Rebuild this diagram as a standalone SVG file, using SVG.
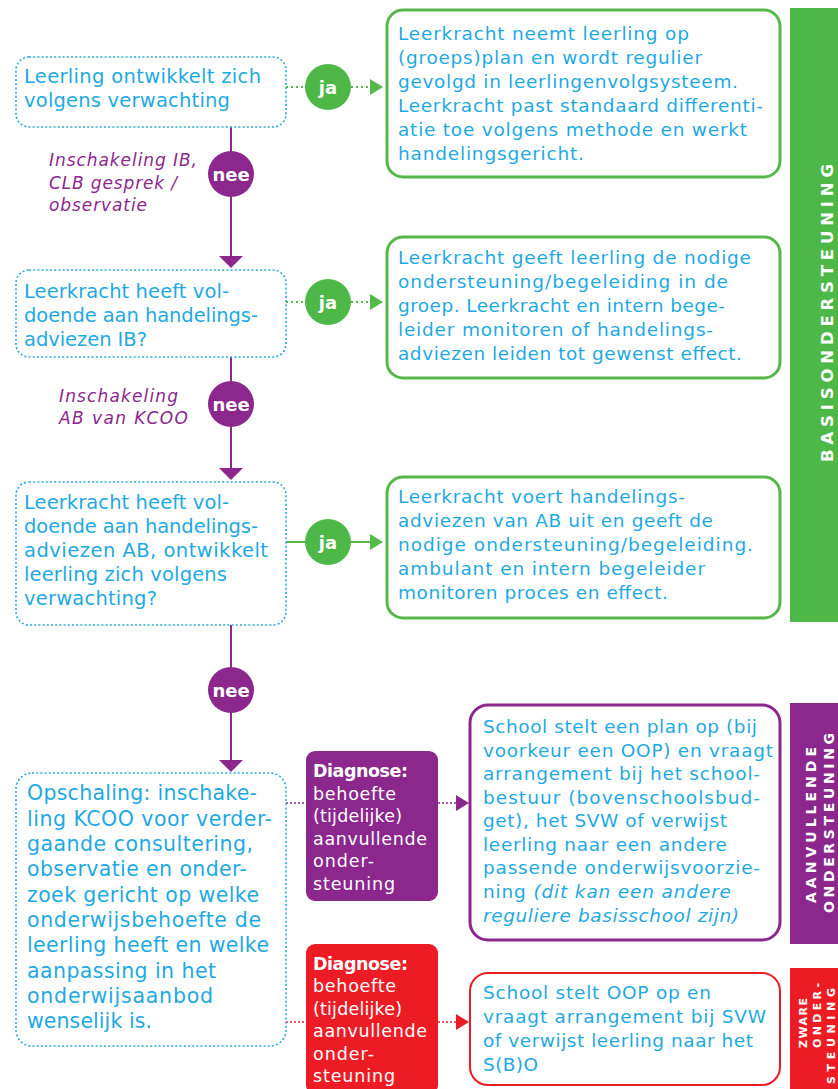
<svg xmlns="http://www.w3.org/2000/svg" width="838" height="1089" viewBox="0 0 838 1089">
<style>
  text { font-family: "DejaVu Sans", "Liberation Sans", sans-serif; }
  .q { fill: none; stroke: #27AAE1; stroke-width: 1.6; stroke-dasharray: 2 2.2; }
  .t19 { fill: #1FA9E2; font-size: 19.5px; }
  .t20 { fill: #1FA9E2; font-size: 20.5px; }
  .t18 { fill: #1FA9E2; font-size: 18.5px; }
  .g { fill: #fff; stroke: #56B84B; stroke-width: 3; }
  .p { fill: #fff; stroke: #8B278D; stroke-width: 3; }
  .r { fill: #fff; stroke: #ED1C24; stroke-width: 2; }
  .lab { fill: #8B278D; font-size: 17px; font-style: italic; }
  .circ { font-size: 18px; font-weight: bold; fill: #fff; text-anchor: middle; }
  .dw { fill: #fff; font-size: 17.5px; }
  .side { fill: #fff; font-weight: bold; }
</style>

<!-- sidebars -->
<g id="side-basis">
  <rect x="790" y="8" width="48" height="614" fill="#4DB848"/>
  <text class="side" font-size="16.5" x="0" y="0" textLength="298" lengthAdjust="spacing" transform="translate(833,462) rotate(-90)">BASISONDERSTEUNING</text>
</g>
<g id="side-aanvullend">
  <rect x="790" y="703" width="48" height="241" fill="#8B278D"/>
  <text class="side" font-size="14" x="0" y="0" textLength="156" lengthAdjust="spacing" transform="translate(816,903) rotate(-90)">AANVULLENDE</text>
  <text class="side" font-size="14" x="0" y="0" textLength="180" lengthAdjust="spacing" transform="translate(834,913) rotate(-90)">ONDERSTEUNING</text>
</g>
<g id="side-zwaar">
  <rect x="790" y="968" width="48" height="121" fill="#ED1C24"/>
  <text class="side" font-size="11" x="0" y="0" textLength="50" lengthAdjust="spacing" transform="translate(807,1048) rotate(-90)">ZWARE</text>
  <text class="side" font-size="11" x="0" y="0" textLength="65" lengthAdjust="spacing" transform="translate(821,1048) rotate(-90)">ONDER-</text>
  <text class="side" font-size="11" x="0" y="0" textLength="96" lengthAdjust="spacing" transform="translate(835,1084) rotate(-90)">STEUNING</text>
</g>

<!-- connectors -->
<g id="connectors">
  <line x1="286" y1="87" x2="370" y2="87" stroke="#56B84B" stroke-width="2" stroke-dasharray="2 3"/>
  <polygon points="370,79 383,87 370,95" fill="#56B84B"/>
  <line x1="286" y1="302" x2="370" y2="302" stroke="#56B84B" stroke-width="2" stroke-dasharray="2 3"/>
  <polygon points="370,294 383,302 370,310" fill="#56B84B"/>
  <line x1="286" y1="542" x2="370" y2="542" stroke="#56B84B" stroke-width="2"/>
  <polygon points="370,534 383,542 370,550" fill="#56B84B"/>

  <line x1="231" y1="127" x2="231" y2="256" stroke="#8B278D" stroke-width="2"/>
  <polygon points="219,256 243,256 231,268" fill="#8B278D"/>
  <line x1="231" y1="357" x2="231" y2="468" stroke="#8B278D" stroke-width="2"/>
  <polygon points="219,468 243,468 231,480" fill="#8B278D"/>
  <line x1="231" y1="625" x2="231" y2="760" stroke="#8B278D" stroke-width="2"/>
  <polygon points="219,760 243,760 231,772" fill="#8B278D"/>

  <line x1="286" y1="803" x2="306" y2="803" stroke="#8B278D" stroke-width="1.5" stroke-dasharray="2 2"/>
  <line x1="438" y1="803" x2="456" y2="803" stroke="#8B278D" stroke-width="1.5" stroke-dasharray="2 2"/>
  <polygon points="456,795 469,803 456,811" fill="#8B278D"/>
  <line x1="286" y1="1022" x2="306" y2="1022" stroke="#ED1C24" stroke-width="1.5" stroke-dasharray="2 2"/>
  <line x1="438" y1="1022" x2="456" y2="1022" stroke="#ED1C24" stroke-width="1.5" stroke-dasharray="2 2"/>
  <polygon points="456,1014 469,1022 456,1030" fill="#ED1C24"/>

  <g id="ja1"><circle cx="328" cy="87" r="23" fill="#4DB848"/><text class="circ" x="328" y="94">ja</text></g>
  <g id="ja2"><circle cx="328" cy="302" r="23" fill="#4DB848"/><text class="circ" x="328" y="309">ja</text></g>
  <g id="ja3"><circle cx="328" cy="542" r="23" fill="#4DB848"/><text class="circ" x="328" y="549">ja</text></g>
  <g id="nee1"><circle cx="231" cy="174" r="23" fill="#8B278D"/><text class="circ" x="231" y="181">nee</text></g>
  <g id="nee2"><circle cx="231" cy="404" r="23" fill="#8B278D"/><text class="circ" x="231" y="411">nee</text></g>
  <g id="nee3"><circle cx="231" cy="690" r="23" fill="#8B278D"/><text class="circ" x="231" y="697">nee</text></g>

  <g id="label1">
    <text class="lab" x="49" y="166" textLength="148" lengthAdjust="spacing">Inschakeling IB,</text>
    <text class="lab" x="49" y="189" textLength="128" lengthAdjust="spacing">CLB gesprek /</text>
    <text class="lab" x="49" y="211" textLength="98" lengthAdjust="spacing">observatie</text>
  </g>
  <g id="label2">
    <text class="lab" x="59" y="402" textLength="119" lengthAdjust="spacing">Inschakeling</text>
    <text class="lab" x="59" y="424" textLength="129" lengthAdjust="spacing">AB van KCOO</text>
  </g>
</g>

<!-- left question nodes -->
<g id="q1">
  <rect class="q" x="16" y="57" width="270" height="70" rx="13"/>
  <text class="t19" x="24" y="83" textLength="237" lengthAdjust="spacing">Leerling ontwikkelt zich</text>
  <text class="t19" x="24" y="107" textLength="206" lengthAdjust="spacing">volgens verwachting</text>
</g>
<g id="q2">
  <rect class="q" x="16" y="270" width="270" height="87" rx="13"/>
  <text class="t19" x="24" y="298" textLength="205" lengthAdjust="spacing">Leerkracht heeft vol-</text>
  <text class="t19" x="24" y="322" textLength="234" lengthAdjust="spacing">doende aan handelings-</text>
  <text class="t19" x="24" y="346" textLength="123" lengthAdjust="spacing">adviezen IB?</text>
</g>
<g id="q3">
  <rect class="q" x="16" y="482" width="270" height="143" rx="13"/>
  <text class="t19" x="24" y="509" textLength="205" lengthAdjust="spacing">Leerkracht heeft vol-</text>
  <text class="t19" x="24" y="533" textLength="234" lengthAdjust="spacing">doende aan handelings-</text>
  <text class="t19" x="24" y="557" textLength="244" lengthAdjust="spacing">adviezen AB, ontwikkelt</text>
  <text class="t19" x="24" y="581" textLength="203" lengthAdjust="spacing">leerling zich volgens</text>
  <text class="t19" x="24" y="605" textLength="133" lengthAdjust="spacing">verwachting?</text>
</g>
<g id="q4">
  <rect class="q" x="16" y="773" width="270" height="273" rx="16"/>
  <text class="t20" x="27" y="800" textLength="230" lengthAdjust="spacing">Opschaling: inschake-</text>
  <text class="t20" x="27" y="826" textLength="245" lengthAdjust="spacing">ling KCOO voor verder-</text>
  <text class="t20" x="27" y="851" textLength="226" lengthAdjust="spacing">gaande consultering,</text>
  <text class="t20" x="27" y="876" textLength="220" lengthAdjust="spacing">observatie en onder-</text>
  <text class="t20" x="27" y="902" textLength="232" lengthAdjust="spacing">zoek gericht op welke</text>
  <text class="t20" x="27" y="927" textLength="234" lengthAdjust="spacing">onderwijsbehoefte de</text>
  <text class="t20" x="27" y="952" textLength="242" lengthAdjust="spacing">leerling heeft en welke</text>
  <text class="t20" x="27" y="978" textLength="189" lengthAdjust="spacing">aanpassing in het</text>
  <text class="t20" x="27" y="1003" textLength="186" lengthAdjust="spacing">onderwijsaanbod</text>
  <text class="t20" x="27" y="1028" textLength="125" lengthAdjust="spacing">wenselijk is.</text>
</g>

<!-- right outcome nodes -->
<g id="g1">
  <rect class="g" x="387" y="10" width="393" height="167" rx="16"/>
  <text class="t18" x="398" y="40" textLength="291" lengthAdjust="spacing">Leerkracht neemt leerling op</text>
  <text class="t18" x="398" y="64" textLength="304" lengthAdjust="spacing">(groeps)plan en wordt regulier</text>
  <text class="t18" x="398" y="88" textLength="340" lengthAdjust="spacing">gevolgd in leerlingenvolgsysteem.</text>
  <text class="t18" x="398" y="112" textLength="365" lengthAdjust="spacing">Leerkracht past standaard differenti-</text>
  <text class="t18" x="398" y="136" textLength="349" lengthAdjust="spacing">atie toe volgens methode en werkt</text>
  <text class="t18" x="398" y="160" textLength="186" lengthAdjust="spacing">handelingsgericht.</text>
</g>
<g id="g2">
  <rect class="g" x="387" y="237" width="393" height="141" rx="16"/>
  <text class="t18" x="398" y="264" textLength="353" lengthAdjust="spacing">Leerkracht geeft leerling de nodige</text>
  <text class="t18" x="398" y="288" textLength="330" lengthAdjust="spacing">ondersteuning/begeleiding in de</text>
  <text class="t18" x="398" y="312" textLength="327" lengthAdjust="spacing">groep. Leerkracht en intern bege-</text>
  <text class="t18" x="398" y="336" textLength="315" lengthAdjust="spacing">leider monitoren of handelings-</text>
  <text class="t18" x="398" y="360" textLength="344" lengthAdjust="spacing">adviezen leiden tot gewenst effect.</text>
</g>
<g id="g3">
  <rect class="g" x="387" y="477" width="393" height="141" rx="16"/>
  <text class="t18" x="398" y="503" textLength="287" lengthAdjust="spacing">Leerkracht voert handelings-</text>
  <text class="t18" x="398" y="527" textLength="315" lengthAdjust="spacing">adviezen van AB uit en geeft de</text>
  <text class="t18" x="398" y="551" textLength="355" lengthAdjust="spacing">nodige ondersteuning/begeleiding.</text>
  <text class="t18" x="398" y="575" textLength="307" lengthAdjust="spacing">ambulant en intern begeleider</text>
  <text class="t18" x="398" y="599" textLength="270" lengthAdjust="spacing">monitoren proces en effect.</text>
</g>

<g id="diag-purple">
  <rect x="306" y="751" width="132" height="150" rx="9" fill="#8B278D"/>
  <text class="dw" x="313" y="777" font-weight="bold" textLength="95" lengthAdjust="spacing">Diagnose:</text>
  <text class="dw" x="313" y="800" textLength="83" lengthAdjust="spacing">behoefte</text>
  <text class="dw" x="313" y="822" textLength="89" lengthAdjust="spacing">(tijdelijke)</text>
  <text class="dw" x="313" y="845" textLength="114" lengthAdjust="spacing">aanvullende</text>
  <text class="dw" x="313" y="867" textLength="61" lengthAdjust="spacing">onder-</text>
  <text class="dw" x="313" y="890" textLength="82" lengthAdjust="spacing">steuning</text>
</g>
<g id="diag-red">
  <rect x="306" y="944" width="132" height="150" rx="9" fill="#ED1C24"/>
  <text class="dw" x="313" y="970" font-weight="bold" textLength="95" lengthAdjust="spacing">Diagnose:</text>
  <text class="dw" x="313" y="992" textLength="83" lengthAdjust="spacing">behoefte</text>
  <text class="dw" x="313" y="1015" textLength="89" lengthAdjust="spacing">(tijdelijke)</text>
  <text class="dw" x="313" y="1037" textLength="114" lengthAdjust="spacing">aanvullende</text>
  <text class="dw" x="313" y="1060" textLength="61" lengthAdjust="spacing">onder-</text>
  <text class="dw" x="313" y="1082" textLength="82" lengthAdjust="spacing">steuning</text>
</g>

<g id="p1">
  <rect class="p" x="470" y="705" width="310" height="235" rx="18"/>
  <text class="t18" x="483" y="733" textLength="274" lengthAdjust="spacing">School stelt een plan op (bij</text>
  <text class="t18" x="483" y="757" textLength="290" lengthAdjust="spacing">voorkeur een OOP) en vraagt</text>
  <text class="t18" x="483" y="780" textLength="277" lengthAdjust="spacing">arrangement bij het school-</text>
  <text class="t18" x="483" y="804" textLength="277" lengthAdjust="spacing">bestuur (bovenschoolsbud-</text>
  <text class="t18" x="483" y="827" textLength="244" lengthAdjust="spacing">get), het SVW of verwijst</text>
  <text class="t18" x="483" y="851" textLength="244" lengthAdjust="spacing">leerling naar een andere</text>
  <text class="t18" x="483" y="874" textLength="277" lengthAdjust="spacing">passende onderwijsvoorzie-</text>
  <text class="t18" x="483" y="898" textLength="248" lengthAdjust="spacing">ning <tspan font-style="italic">(dit kan een andere</tspan></text>
  <text class="t18" x="483" y="922" font-style="italic" textLength="256" lengthAdjust="spacing">reguliere basisschool zijn)</text>
</g>
<g id="r1">
  <rect class="r" x="470" y="973" width="310" height="112" rx="18"/>
  <text class="t18" x="483" y="999" textLength="228" lengthAdjust="spacing">School stelt OOP op en</text>
  <text class="t18" x="483" y="1023" textLength="283" lengthAdjust="spacing">vraagt arrangement bij SVW</text>
  <text class="t18" x="483" y="1047" textLength="270" lengthAdjust="spacing">of verwijst leerling naar het</text>
  <text class="t18" x="483" y="1071" textLength="55" lengthAdjust="spacing">S(B)O</text>
</g>
</svg>
